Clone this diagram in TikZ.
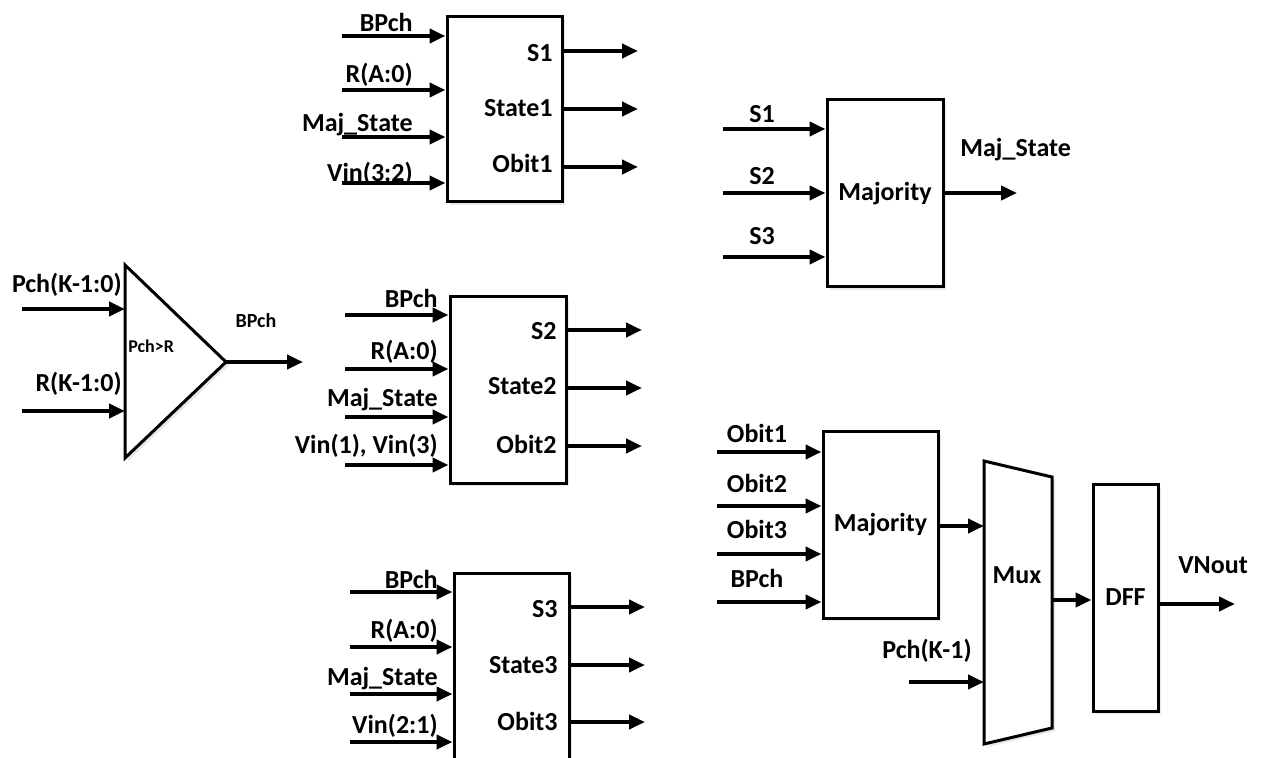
\documentclass[tikz,border=0pt]{standalone}
\usepackage{fontspec}
\setmainfont{Carlito}
\usetikzlibrary{arrows.meta,shadows}

\begin{document}
\begin{tikzpicture}[x=0.5pt, y=-0.5pt,
  font=\bfseries\fontsize{13}{15}\selectfont,
  blk/.style={draw, line width=1.5pt, fill=white, inner sep=0pt,
    drop shadow={shadow xshift=1.5pt, shadow yshift=-1.5pt, opacity=.18}},
  sig/.style={line width=2pt, -{Triangle[length=8pt,width=7pt]}},
  lbl/.style={inner sep=0pt}
]
\clip (0,0) rectangle (1267,758);

% comparator
\coordinate (cnw) at (125,265);
\coordinate (ctip) at (226,362);
\draw[blk, line join=miter] (cnw) -- (ctip) -- (125,458) -- cycle;
\node[lbl, anchor=base west, font=\bfseries\fontsize{9}{11}\selectfont] (cmp) at (128,353) {Pch>R};
\coordinate (ci1) at (22,309);
\coordinate (ci2) at (22,411);
\draw[sig] (ci1) -- (ci1 -| cnw);
\draw[sig] (ci2) -- (ci2 -| cnw);
\node[lbl, anchor=base east] (cl1) at (122,293) {Pch(K-1:0)};
\node[lbl, anchor=base east] (cl2) at (122,392) {R(K-1:0)};
\coordinate (co) at (303,362);
\draw[sig] (ctip) -- (co);
\node[lbl, anchor=base, font=\bfseries\fontsize{10}{12}\selectfont] (bpch) at (256,328) {BPch};

% state blocks
\node[blk, minimum width=57.5pt, minimum height=92.5pt] (b1) at (504.5,109.5) {};
\node[blk, minimum width=58pt, minimum height=93pt] (b2) at (508,390) {};
\node[blk, minimum width=57.5pt, minimum height=95pt] (b3) at (511.5,668) {};

\foreach \y/\yt/\t [count=\i] in {36/32/BPch, 90/83/R(A:0), 137/132/Maj\_State, 183/182/Vin(3:2)} {
  \coordinate (b1i\i) at (342,\y);
  \draw[sig] (b1i\i) -- (b1i\i -| b1.west);
  \node[lbl, anchor=base east] (b1l\i) at (413,\yt) {\t};
}
\foreach \y/\yt/\t [count=\i] in {51/62/S1, 109/117/State1, 167/173/Obit1} {
  \coordinate (b1o\i) at (638,\y);
  \draw[sig] (b1o\i -| b1.east) -- (b1o\i);
  \node[lbl, anchor=base east] (b1t\i) at (553,\yt) {\t};
}

\foreach \y/\yt/\t [count=\i] in {315/308/BPch, 369/360/R(A:0), 417/407/Maj\_State, 465/453/{Vin(1), Vin(3)}} {
  \coordinate (b2i\i) at (345,\y);
  \draw[sig] (b2i\i) -- (b2i\i -| b2.west);
  \node[lbl, anchor=base east] (b2l\i) at (438,\yt) {\t};
}
\foreach \y/\yt/\t [count=\i] in {330/340/S2, 388/395/State2, 446/453/Obit2} {
  \coordinate (b2o\i) at (642,\y);
  \draw[sig] (b2o\i -| b2.east) -- (b2o\i);
  \node[lbl, anchor=base east] (b2t\i) at (557,\yt) {\t};
}

\foreach \y/\yt/\t [count=\i] in {592/588/BPch, 647/638/R(A:0), 694/685/Maj\_State, 742/733/Vin(2:1)} {
  \coordinate (b3i\i) at (350,\y);
  \draw[sig] (b3i\i) -- (b3i\i -| b3.west);
  \node[lbl, anchor=base east] (b3l\i) at (438,\yt) {\t};
}
\foreach \y/\yt/\t [count=\i] in {607/617/S3, 665/673/State3, 722/730/Obit3} {
  \coordinate (b3o\i) at (645,\y);
  \draw[sig] (b3o\i -| b3.east) -- (b3o\i);
  \node[lbl, anchor=base east] (b3t\i) at (558,\yt) {\t};
}

% state majority
\node[blk, minimum width=58pt, minimum height=93.5pt] (maj1) at (885,193.5) {Majority};
\foreach \y/\yt/\t [count=\i] in {129/123/S1, 193/185/S2, 257/245/S3} {
  \coordinate (m1i\i) at (723,\y);
  \draw[sig] (m1i\i) -- (m1i\i -| maj1.west);
  \node[lbl, anchor=base] (m1l\i) at (762,\yt) {\t};
}
\coordinate (m1o) at (1017,193);
\draw[sig] (m1o -| maj1.east) -- (m1o);
\node[lbl, anchor=base west] (majst) at (960,157) {Maj\_State};

% output majority, mux and flip-flop
\node[blk, minimum width=57.5pt, minimum height=93pt] (maj2) at (880.5,525) {Majority};
\foreach \y/\yt/\t [count=\i] in {452/443/Obit1, 506/492/Obit2, 554/538/Obit3, 602/587/BPch} {
  \coordinate (m2i\i) at (717,\y);
  \draw[sig] (m2i\i) -- (m2i\i -| maj2.west);
  \node[lbl, anchor=base] (m2l\i) at (757,\yt) {\t};
}

\coordinate (muxnw) at (984,461);
\draw[blk, line join=miter] (muxnw) -- (1052,477) -- (1052,728) -- (984,744) -- cycle;
\node[lbl] (mux) at (1017,575) {Mux};
\coordinate (muxi) at (984,526);
\draw[sig] (muxi -| maj2.east) -- (muxi);
\coordinate (pchk) at (909,682);
\draw[sig] (pchk) -- (pchk -| muxnw);
\node[lbl, anchor=base] (pchkl) at (927,658) {Pch(K-1)};

\node[blk, minimum width=32.5pt, minimum height=113.5pt] (dff) at (1125.5,597.5) {DFF};
\coordinate (muxo) at (1052,600);
\draw[sig] (muxo) -- (muxo -| dff.west);
\coordinate (vno) at (1235,604);
\draw[sig] (vno -| dff.east) -- (vno);
\node[lbl, anchor=base] (vnout) at (1213,573) {VNout};
\end{tikzpicture}
\end{document}
